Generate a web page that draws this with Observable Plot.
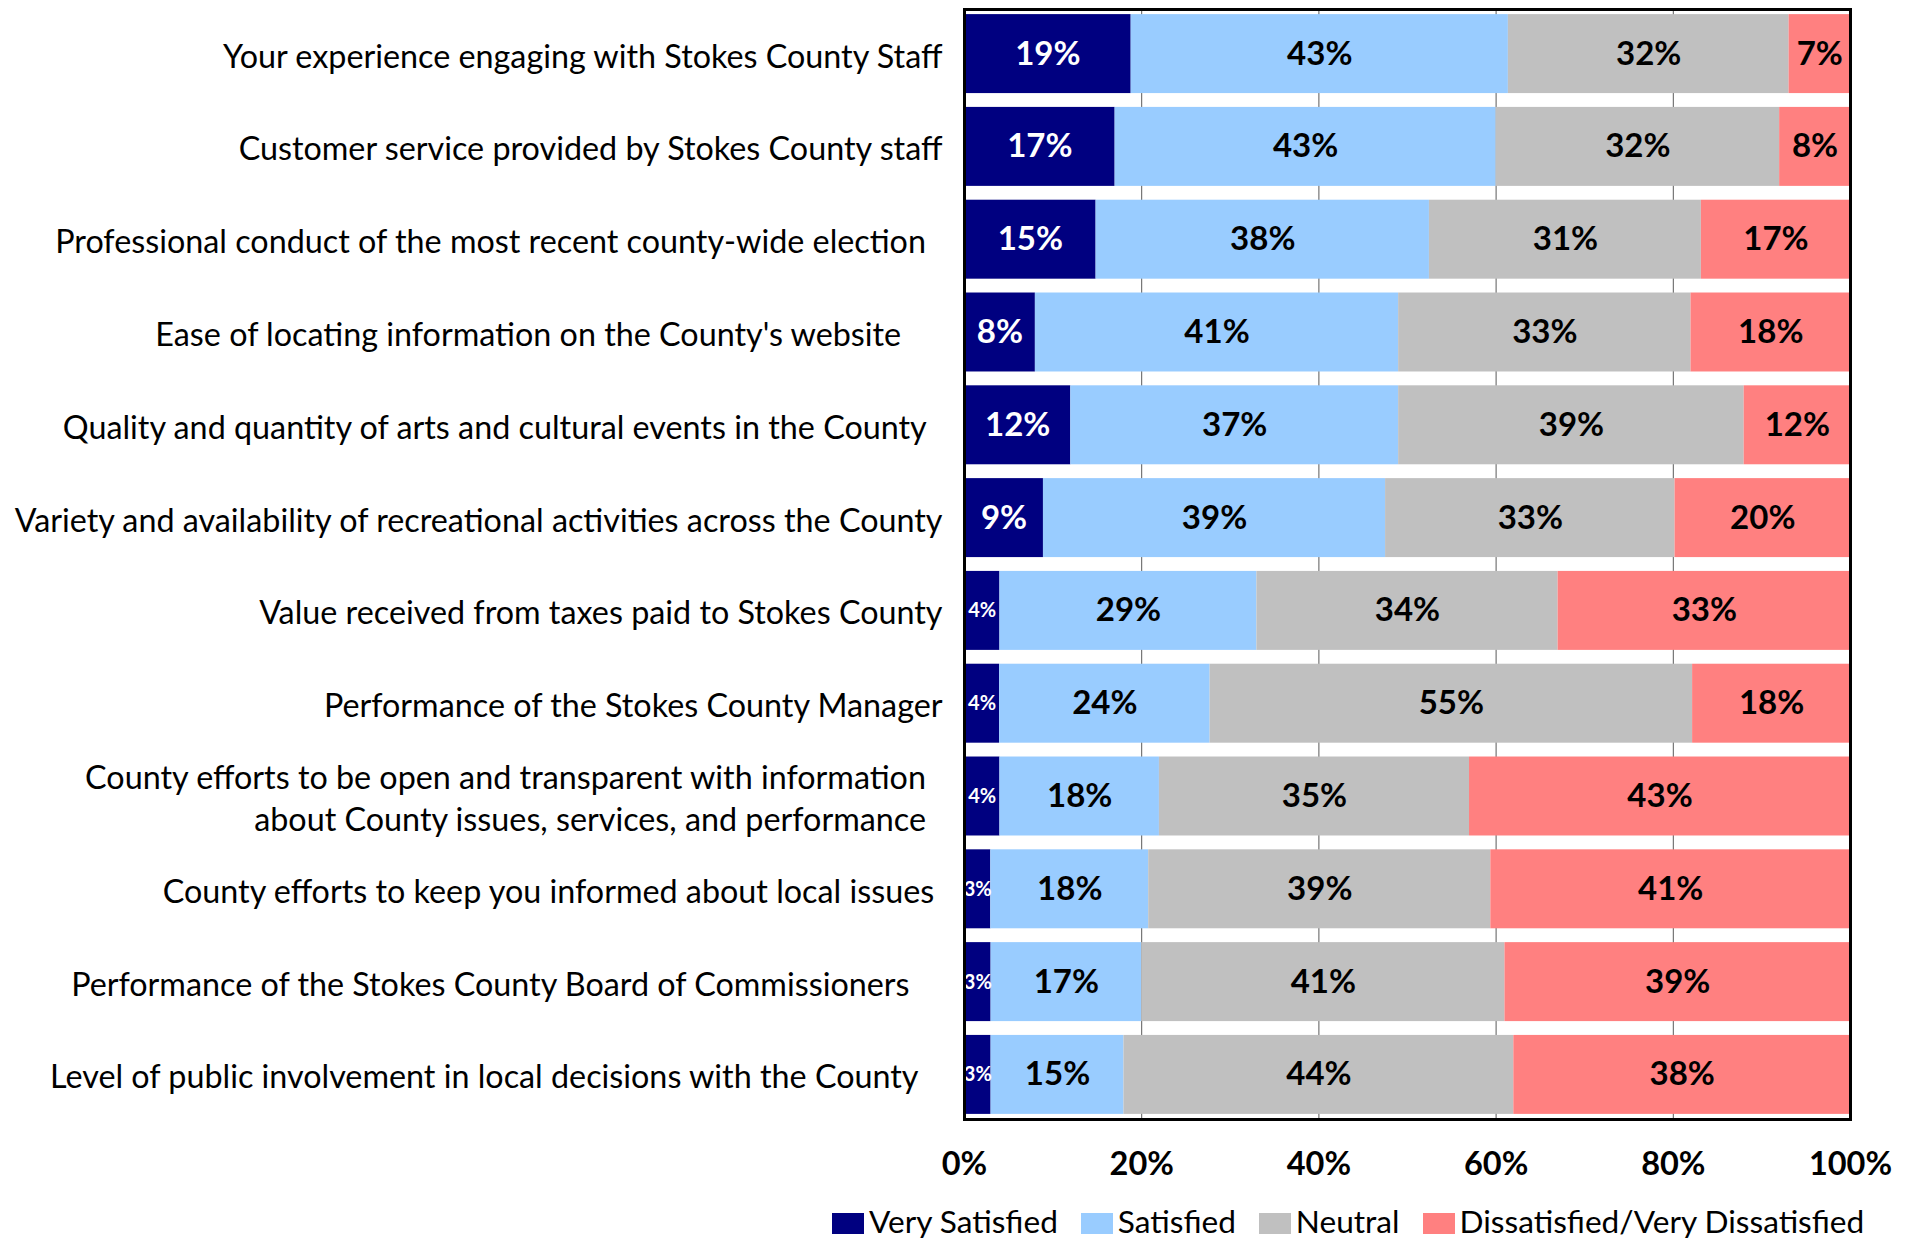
<!DOCTYPE html>
<html>
<head>
<meta charset="utf-8">
<script src="https://cdn.jsdelivr.net/npm/d3@7"></script>
<script src="https://cdn.jsdelivr.net/npm/@observablehq/plot@0.6"></script>
<style>
  html, body { margin: 0; padding: 0; background: #fff; }
  #wrap { position: relative; width: 1915px; height: 1240px; font-family: Lato, "Open Sans", sans-serif; }
  #legend { position: absolute; left: 832px; top: 1202px; display: flex; align-items: center; gap: 23px; font-size: 31.6px; color: #000; white-space: nowrap; }
  #legend .item { display: flex; align-items: center; gap: 5px; }
  #legend .sw { width: 32px; height: 21px; display: inline-block; margin-top: 4px; }
</style>
</head>
<body>
<div id="wrap"><div id="chart"></div><div id="legend"></div></div>
<script>
const NB = "\u00a0";
const questions = [
  "Your experience engaging with Stokes County Staff",
  "Customer service provided by Stokes County staff",
  "Professional conduct of the most recent county-wide election" + NB + NB,
  "Ease of locating information on the County's website" + NB.repeat(5),
  "Quality and quantity of arts and cultural events in the County" + NB + NB,
  "Variety and availability of recreational activities across the County",
  "Value received from taxes paid to Stokes County",
  "Performance of the Stokes County Manager",
  "County efforts to be open and transparent with information" + NB + NB + "\nabout County issues, services, and performance" + NB + NB,
  "County efforts to keep you informed about local issues" + NB,
  "Performance of the Stokes County Board of Commissioners" + NB.repeat(4),
  "Level of public involvement in local decisions with the County" + NB.repeat(3)
];
const seriesNames = ["Very Satisfied", "Satisfied", "Neutral", "Dissatisfied/Very Dissatisfied"];
const seriesColors = ["#000080", "#99CCFF", "#C0C0C0", "#FF8080"];
const verySatisfied = [19, 17, 15, 8, 12, 9, 4, 4, 4, 3, 3, 3];
const satisfied     = [43, 43, 38, 41, 37, 39, 29, 24, 18, 18, 17, 15];
const neutral       = [32, 32, 31, 33, 39, 33, 34, 55, 35, 39, 41, 44];
const dissatisfied  = [7, 8, 17, 18, 12, 20, 33, 18, 43, 41, 39, 38];
const xTicks = [0, 0.2, 0.4, 0.6, 0.8, 1];
const gridTicks = [0.2, 0.4, 0.6, 0.8];

// Build a tidy table with normalized (100%) stacking
const seriesValues = [verySatisfied, satisfied, neutral, dissatisfied];
const rows = [];
questions.forEach((q, i) => {
  const total = d3.sum(seriesValues, s => s[i]);
  let cum = 0;
  seriesValues.forEach((s, k) => {
    const v = s[i];
    rows.push({q, series: seriesNames[k], value: v, x1: cum / total, x2: (cum + v) / total});
    cum += v;
  });
});

const big = rows.filter(d => d.value >= 5);
const small = rows.filter(d => d.value < 5);
const mid = d => (d.x1 + d.x2) / 2;

const chart = Plot.plot({
  width: 1915,
  height: 1190,
  marginLeft: 964,
  marginRight: 65,
  marginTop: 9,
  marginBottom: 71,
  style: {fontFamily: "Lato, 'Open Sans', sans-serif", fontSize: "32px", color: "#000", background: "#fff"},
  x: {domain: [0, 1]},
  y: {domain: questions, paddingInner: 0.149, paddingOuter: 0.055, round: false},
  color: {domain: seriesNames, range: seriesColors},
  marks: [
    Plot.ruleX(gridTicks, {stroke: "#595959", strokeWidth: 1}),
    Plot.barX(rows, {x1: "x1", x2: "x2", y: "q", fill: "series", insetLeft: 0, insetRight: 0}),
    Plot.text(big.filter(d => d.series === seriesNames[0]), {x: mid, y: "q", text: d => d.value + "%", fill: "white", fontWeight: "bold", fontSize: 33}),
    Plot.text(big.filter(d => d.series !== seriesNames[0]), {x: mid, y: "q", text: d => d.value + "%", fill: "black", fontWeight: "bold", fontSize: 33}),
    Plot.text(small, {x: mid, y: "q", text: d => d.value + "%", fill: "white", fontWeight: "bold", fontSize: 20}),
    Plot.frame({stroke: "black", strokeWidth: 3}),
    Plot.axisY({tickSize: 0, tickPadding: 22, fontSize: 32.3, lineHeight: 1.3, label: null}),
    Plot.axisX({ticks: xTicks, tickFormat: d3.format(".0%"), tickSize: 0, tickPadding: 32, fontSize: 32.5, fontWeight: "bold", label: null})
  ]
});
document.getElementById("chart").appendChild(chart);

const legend = document.getElementById("legend");
seriesNames.forEach((name, k) => {
  const item = document.createElement("div");
  item.className = "item";
  const sw = document.createElement("span");
  sw.className = "sw";
  sw.style.background = seriesColors[k];
  const label = document.createElement("span");
  label.textContent = name;
  item.appendChild(sw);
  item.appendChild(label);
  legend.appendChild(item);
});
</script>
</body>
</html>
